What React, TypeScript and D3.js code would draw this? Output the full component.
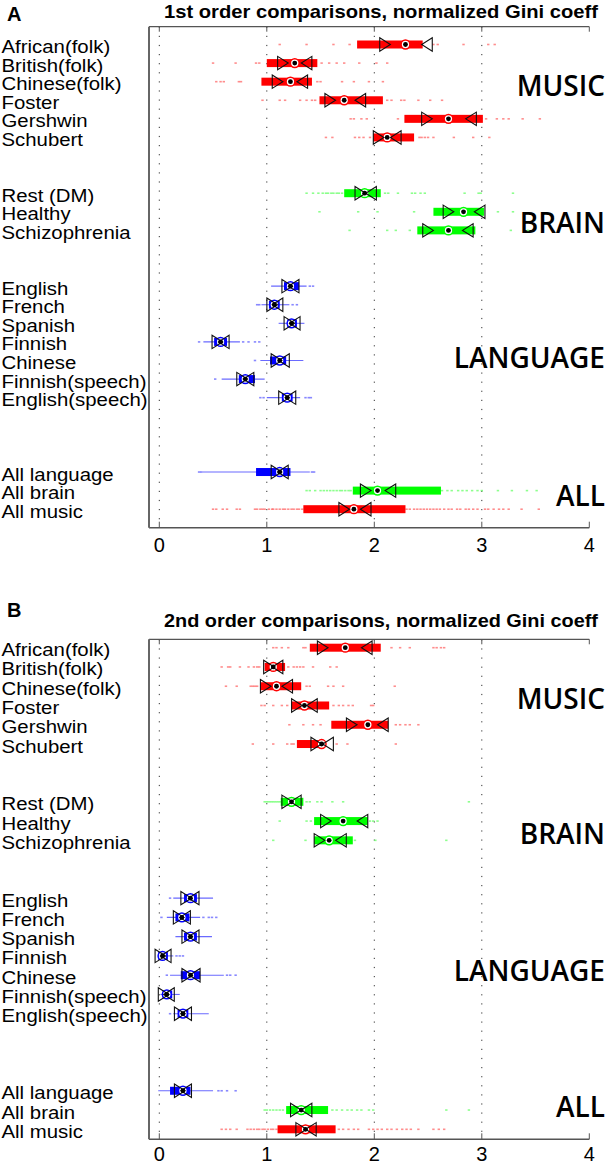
import React from "react";
import * as d3 from "d3";

const names = ["African(folk)","British(folk)","Chinese(folk)","Foster","Gershwin","Schubert","Rest (DM)","Healthy","Schizophrenia","English","French","Spanish","Finnish","Chinese","Finnish(speech)","English(speech)","All language","All brain","All music"];
const rows = [1,2,3,4,5,6,9,10,11,14,15,16,17,18,19,20,24,25,26];
const groupOf = ["music","music","music","music","music","music","brain","brain","brain","lang","lang","lang","lang","lang","lang","lang","lang","brain","music"];
const xTicks = [0,1,2,3,4];
const gridTicks = [0,1,2,3];

// Panel A: 1st order
const aQ1 = [1.84,1.00,0.95,1.49,2.28,1.99,1.72,2.55,2.40,1.16,1.02,1.19,0.51,1.03,0.74,1.14,0.90,1.80,1.34];
const aQ3 = [2.45,1.47,1.42,2.08,3.01,2.37,2.06,3.02,2.94,1.30,1.12,1.28,0.63,1.18,0.89,1.24,1.22,2.62,2.29];
const aMed = [2.29,1.26,1.22,1.72,2.69,2.12,1.91,2.83,2.69,1.22,1.07,1.23,0.57,1.12,0.80,1.19,1.12,2.03,1.81];
const aNotchLo = [2.10,1.15,1.10,1.59,2.49,2.04,1.87,2.69,2.50,1.19,1.05,1.21,0.54,1.09,0.77,1.16,1.09,1.92,1.72];
const aNotchHi = [2.49,1.37,1.33,1.87,2.90,2.20,1.97,2.98,2.87,1.25,1.10,1.26,0.60,1.16,0.83,1.22,1.15,2.15,1.92];
const aWhLo = [null,null,null,null,null,null,null,null,null,1.04,0.95,1.11,0.41,0.94,0.58,1.00,0.40,null,null];
const aWhHi = [null,null,null,null,null,null,null,null,null,1.37,1.21,1.35,0.75,1.34,0.98,1.31,1.40,null,null];
const aOut = [
  [1.12,1.37,1.62,1.77,2.55,2.59,2.83,3.06,3.12],
  [0.50,0.71,0.90,0.93,1.51,1.58,1.65,1.72,1.86,2.02,2.12],
  [0.53,0.57,0.60,0.74,0.76,1.47,1.50,1.70,1.81,1.95,2.08],
  [0.96,1.12,1.17,1.31,1.37,1.42,1.45,2.12,2.16,2.25,2.28,2.41,2.52,2.63],
  [1.78,1.81,1.88,1.93,2.22,3.04,3.14,3.20,3.25,3.38,3.54],
  [1.55,1.61,1.82,1.86,1.90,1.96,2.42,2.44,2.47,2.50,2.55,2.74,2.92,3.07],
  [1.37,1.43,1.48,1.52,1.55,1.57,1.60,1.62,1.65,1.67,1.70,2.10,2.13,2.22,2.35,2.38,2.43,2.47,2.84,2.97,2.99,3.29],
  [1.49,1.85,2.03,2.37,3.15,3.29],
  [1.77,2.12,2.20,2.33,3.27,3.43],
  [1.40,1.43],
  [0.91,0.93,1.24,1.28],
  [],
  [0.37,0.78,0.83,0.89,0.93],
  [0.89],
  [0.52],
  [0.94,0.97,1.36,1.39,1.41],
  [0.37,0.39,1.42,1.44],
  [1.37,1.40,1.45,1.50,1.53,1.56,1.59,1.62,1.65,1.68,1.70,1.73,1.76,1.78,2.63,2.68,2.72,2.78,2.82,2.86,2.91,2.96,3.00,3.15,3.28,3.42,3.51],
  [0.50,0.53,0.59,0.63,0.72,0.75,0.89,0.91,0.94,0.96,0.98,1.02,1.05,1.06,1.09,1.12,1.15,1.17,1.20,1.23,1.25,1.28,1.30,1.33,2.30,2.33,2.37,2.40,2.43,2.46,2.49,2.52,2.55,2.58,2.61,2.65,2.69,2.72,2.77,2.80,2.85,2.88,2.92,2.96,3.03,3.06,3.11,3.16,3.20,3.25,3.37,3.53],
];

// Panel B: 2nd order
const bQ1 = [1.40,0.98,0.94,1.23,1.60,1.28,1.13,1.44,1.44,0.23,0.15,0.23,-0.01,0.20,0.03,0.17,0.10,1.18,1.10];
const bQ3 = [2.06,1.17,1.32,1.58,2.13,1.52,1.34,1.94,1.80,0.35,0.28,0.35,0.08,0.38,0.12,0.27,0.29,1.57,1.64];
const bMed = [1.73,1.06,1.09,1.35,1.94,1.51,1.23,1.71,1.58,0.29,0.21,0.29,0.03,0.29,0.07,0.22,0.22,1.32,1.36];
const bNotchLo = [1.52,1.02,0.99,1.28,1.79,1.46,1.19,1.55,1.49,0.25,0.18,0.26,0.01,0.26,0.04,0.19,0.19,1.27,1.32];
const bNotchHi = [1.93,1.10,1.19,1.42,2.08,1.57,1.27,1.89,1.69,0.32,0.24,0.32,0.06,0.33,0.09,0.25,0.25,1.37,1.41];
const bWhLo = [null,null,null,null,null,null,null,null,null,0.13,0.07,0.15,0.00,0.10,0.01,0.13,-0.01,null,null];
const bWhHi = [null,null,null,null,null,null,null,null,null,0.50,0.38,0.49,0.13,0.60,0.19,0.46,0.50,null,null];
const bOut = [
  [1.06,1.09,1.14,1.20,1.34,1.36,2.16,2.24,2.33,2.55,2.58,2.62,2.65],
  [0.58,0.64,0.66,0.75,0.83,0.88,0.91,0.93,1.20,1.25,1.28,1.31,1.34,1.43,1.59,1.65],
  [0.62,0.72,0.85,0.87,0.89,0.91,1.37,1.40,1.57,1.62,1.71,2.19],
  [0.95,0.98,1.06,1.14,1.19,1.62,1.67,1.71,1.76,1.80,1.97,1.99],
  [1.21,1.34,1.43,1.50,2.20,2.24,2.29,2.33,2.41],
  [0.87,1.06,1.19,1.23,1.25,1.65,1.75,2.20],
  [0.98,1.00,1.02,1.04,1.06,1.08,1.10,1.12,1.37,1.40,1.47,1.51,1.61,1.71,2.88],
  [1.12,1.37,1.41,1.96,1.99,2.03],
  [1.06,1.36,1.82,2.01,2.67],
  [0.10],
  [0.02,0.41,0.46,0.49,0.53],
  [],
  [0.16,0.19,0.22],
  [0.07,0.63,0.66,0.71],
  [],
  [0.10],
  [0.55,0.58,0.63,0.71],
  [0.98,1.00,1.03,1.06,1.09,1.12,1.15,1.61,1.65,1.70,1.75,1.79,1.84,1.88,1.95,1.99,2.67,2.88],
  [0.58,0.62,0.66,0.72,0.82,0.85,0.88,0.91,0.93,0.96,0.98,1.01,1.04,1.06,1.09,1.67,1.71,1.76,1.81,1.85,1.95,1.99,2.03,2.07,2.12,2.16,2.21,2.26,2.30,2.34,2.41,2.55,2.60,2.65],
];

const groupLabels = ["MUSIC","BRAIN","LANGUAGE","ALL"];

const COLORS: Record<string,{main:string;light:string}> = {
  music: { main: "#ff0000", light: "#ff7070" },
  brain: { main: "#00ff00", light: "#70ff70" },
  lang: { main: "#0000ff", light: "#6a6aff" },
};

type PanelCfg = {
  letter: string; title: string; letterY: number; titleY: number;
  top: number; bottom: number; row1: number; row26: number;
  q1: number[]; q3: number[]; med: number[]; nlo: number[]; nhi: number[];
  wlo: (number|null)[]; whi: (number|null)[]; out: number[][];
  groupY: number[]; tickY: number;
};

const x = d3.scaleLinear().domain([0, 4]).range([159.3, 589.3]);
const AXIS_LEFT = 149;

function Panel({ c }: { c: PanelCfg }) {
  const y = d3.scaleLinear().domain([1, 26]).range([c.row1, c.row26]);
  const boxH = 8;
  const tw = 5.3, th = 6.7;
  return (
    <g>
      <text x={7} y={c.letterY} fontFamily="Liberation Sans, Arial, sans-serif" fontWeight="bold" fontSize={20}>{c.letter}</text>
      <text x={164} y={c.titleY} fontFamily="Liberation Sans, Arial, sans-serif" fontWeight="bold" fontSize={18.5} textLength={434} lengthAdjust="spacingAndGlyphs">{c.title}</text>
      {gridTicks.map((t) => (
        <line key={"g" + t} x1={x(t)} x2={x(t)} y1={c.top} y2={c.bottom} stroke="#333" strokeWidth={1} strokeDasharray="1.2,7.9" />
      ))}
      <line x1={AXIS_LEFT} x2={x(4)} y1={c.top} y2={c.top} stroke="#555" strokeWidth={1.2} />
      <line x1={AXIS_LEFT} x2={x(4)} y1={c.bottom} y2={c.bottom} stroke="#555" strokeWidth={1.4} />
      <line x1={AXIS_LEFT} x2={AXIS_LEFT} y1={c.top} y2={c.bottom} stroke="#666" strokeWidth={2} />
      {xTicks.map((t) => (
        <g key={"t" + t}>
          <line x1={x(t)} x2={x(t)} y1={c.top} y2={c.top + 5} stroke="#555" strokeWidth={1} />
          <line x1={x(t)} x2={x(t)} y1={c.bottom} y2={c.bottom - 6} stroke="#555" strokeWidth={1} />
          <text x={x(t)} y={c.tickY} textAnchor="middle" fontFamily="Liberation Sans, Arial, sans-serif" fontSize={20}>{t}</text>
        </g>
      ))}
      {names.map((n, i) => (
        <text key={"l" + i} transform={`translate(1.5,${y(rows[i]) + 8.5}) scale(1.09,1)`} fontFamily="Liberation Sans, Arial, sans-serif" fontSize={18.7}>{n}</text>
      ))}
      {groupLabels.map((g, i) => (
        <text key={"gl" + g} x={605} y={c.groupY[i]} textAnchor="end" fontFamily="Open Sans, sans-serif" fontWeight={600} fontSize={28}>{g}</text>
      ))}
      {names.map((n, i) => {
        const cy = y(rows[i]);
        const col = COLORS[groupOf[i]];
        const wl = c.wlo[i], wh = c.whi[i];
        const xl = x(c.nlo[i]), xh = x(c.nhi[i]);
        return (
          <g key={"r" + i}>
            {c.out[i].map((v, j) => (
              <rect key={j} x={x(v) - 1.2} y={cy - 0.8} width={2.4} height={1.6} fill={col.light} opacity={0.8} />
            ))}
            {wl !== null && wh !== null && (
              <line x1={x(wl)} x2={x(wh)} y1={cy} y2={cy} stroke={col.light} strokeWidth={1.1} />
            )}
            <rect x={x(c.q1[i])} y={cy - boxH / 2} width={x(c.q3[i]) - x(c.q1[i])} height={boxH} fill={col.main} />
            <circle cx={x(c.med[i])} cy={cy} r={4.4} fill="#fff" stroke={col.main} strokeWidth={1.5} />
            <path d={`M${xl - tw},${cy - th}L${xl + tw},${cy}L${xl - tw},${cy + th}Z`} fill="none" stroke="#111" strokeWidth={1.1} />
            <path d={`M${xh + tw},${cy - th}L${xh - tw},${cy}L${xh + tw},${cy + th}Z`} fill="none" stroke="#111" strokeWidth={1.1} />
            <circle cx={x(c.med[i])} cy={cy} r={2.4} fill="#000" />
          </g>
        );
      })}
    </g>
  );
}

const panelA: PanelCfg = {
  letter: "A", title: "1st order comparisons, normalized Gini coeff", letterY: 21, titleY: 18,
  top: 26.7, bottom: 527.7, row1: 44.5, row26: 509.2,
  q1: aQ1, q3: aQ3, med: aMed, nlo: aNotchLo, nhi: aNotchHi, wlo: aWhLo, whi: aWhHi, out: aOut,
  groupY: [96, 232.7, 368.3, 506], tickY: 551.7,
};
const panelB: PanelCfg = {
  letter: "B", title: "2nd order comparisons, normalized Gini coeff", letterY: 617, titleY: 627,
  top: 639.3, bottom: 1139.3, row1: 647.7, row26: 1129.3,
  q1: bQ1, q3: bQ3, med: bMed, nlo: bNotchLo, nhi: bNotchHi, wlo: bWhLo, whi: bWhHi, out: bOut,
  groupY: [709, 844, 981, 1116.7], tickY: 1161,
};

export default function App() {
  return (
    <svg width={606} height={1163} style={{ position: "absolute", left: 0, top: 0, background: "#fff" }}>
      <rect width={606} height={1163} fill="#fff" />
      <Panel c={panelA} />
      <Panel c={panelB} />
    </svg>
  );
}
